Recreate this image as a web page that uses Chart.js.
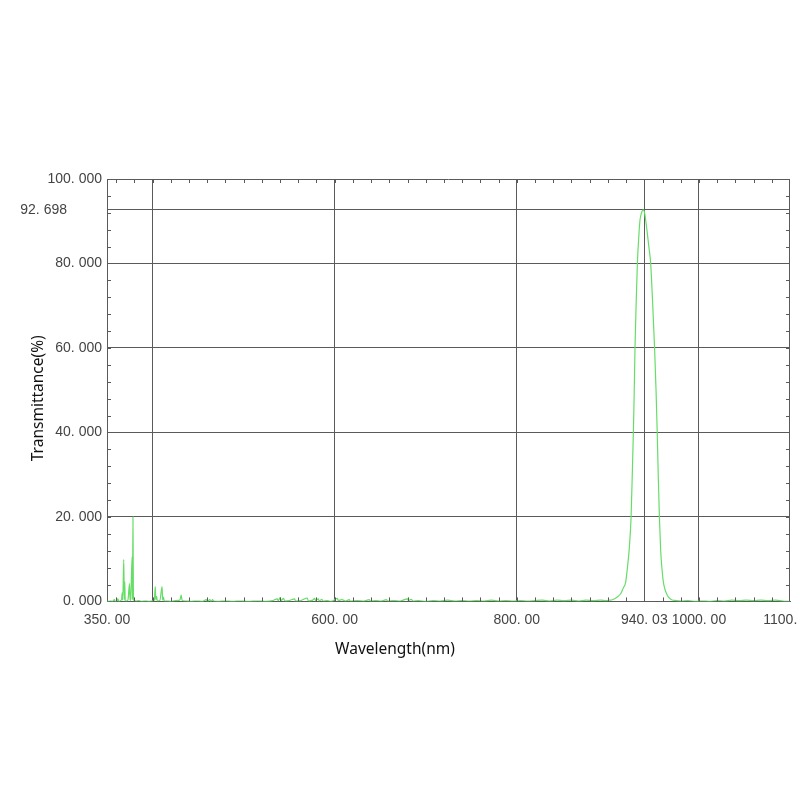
<!DOCTYPE html>
<html><head><meta charset="utf-8">
<script src="https://cdn.jsdelivr.net/npm/chart.js@4/dist/chart.umd.min.js"></script>
<style>html,body{margin:0;padding:0;background:#fff}</style>
</head><body>
<canvas id="c" width="800" height="800"></canvas>
<script>
// Wavelength (nm) sample positions and transmittance (%)
const wavelengths = [
350,354,356,358,359,361,362,363,365,366,366.7,367.3,368.4,369,369.5,370,371,373,374.7,375.3,
376,377.6,378,378.5,379,380,382,385,388,392,396,400,402,403,403.6,404.5,405.2,408,410.5,411.1,
412,412.8,416,420,425,430,431.5,432.5,436,442,448,455,459,460,463,464,466,467,472,480,
488,496,505,515,525,532,537,538,540,541,544,545,550,556,557,563,570,571,576,578,
579,582,583,586,587,592,596,603,604,608,612,616,617,625,632,638,639,645,651,657,
658,665,672,680,681,684,686,692,700,708,716,724,732,740,748,756,764,772,780,788,
796,804,812,820,828,836,844,852,860,868,876,884,892,898,902,905,910,914,917,919.5,
921.5,923.5,925.5,926.8,928,928.8,929.8,931,932.4,934.2,935.3,937,938.6,940,941.5,943.3,945,947,949.3,951.3,
952.9,954.2,955.3,956.6,958,959.5,961,962.5,964.5,966.5,970,975,980,988,996,1004,1012,1020,1028,1036,
1044,1052,1060,1068,1076,1084,1092,1100
];
const transmittance = [
0,0.1,0,0.4,0,0.1,0.6,0,0.2,0.5,2.0,0.3,9.9,0.5,4.6,0.2,0.1,0.3,4.2,0.2,
0.5,10.6,0.4,20.0,0.5,0.2,0.1,0.2,0,0.1,0,0.1,0.3,3.5,0.4,1.2,0.1,0.2,3.5,0.3,
1.0,0.1,0.1,0,0.2,0.3,1.5,0.2,0.1,0,0.1,0,0.4,0,0.4,0,0.4,0.1,0,0.1,
0,0.1,0,0.1,0,0.2,0.6,0.1,0.9,0.2,0.7,0.1,0.2,0.6,0.1,0.2,0.8,0.1,0.3,0.7,
0.2,0.6,0.1,0.5,0.1,0.2,0,0.7,0.2,0.4,0.1,0.4,0.1,0.2,0.1,0.4,0.1,0.2,0.1,0.4,
0.1,0.2,0.1,0.6,0.2,0.5,0.1,0.2,0,0.2,0.1,0.3,0.1,0.2,0.1,0.2,0.1,0.3,0.1,0.2,
0.1,0.2,0.1,0.2,0.3,0.1,0.3,0.2,0.3,0.1,0.3,0.2,0.3,0.2,0.3,0.4,1.0,1.8,3.2,4.5,
8.0,12.5,20.0,30.0,40.0,48.0,60.0,70.0,80.0,87.2,90.3,92.0,92.7,92.3,90.3,87.2,84.0,80.0,70.0,60.0,
50.0,40.0,30.0,20.0,12.0,7.5,4.5,3.0,1.8,1.0,0.4,0.2,0.1,0.2,0,0.1,0,0.2,0.1,0.3,
0.2,0.3,0.2,0.3,0.2,0.3,0.1,0
];
const xTickValues = [350, 400, 600, 800, 940.03, 1000, 1100];
const xTickLabels = ["350. 00", "", "600. 00", "800. 00", "940. 03", "1000. 00", "1100. 00"];
const xGridValues = [400, 600, 800, 940.03, 1000];
const yTickValues = [0, 20, 40, 60, 80, 92.698, 100];
const yTickLabels = ["0. 000", "20. 000", "40. 000", "60. 000", "80. 000", "92. 698         ", "100. 000"];
const yGridValues = [20, 40, 60, 80, 92.698];
const xMinorTicks = [];
for (let v = 360; v < 1100; v += 20) xMinorTicks.push(v);
const yMinorTicks = [];
for (let v = 4; v < 100; v += 4) yMinorTicks.push(v);

const FRAME = '#5a5a5a';
const tickFont = {family: 'Liberation Sans', size: 14};

const frameTicks = {
  id: 'frameTicks',
  afterDatasetsDraw(chart) {
    const {ctx, chartArea: a, scales: {x, y}} = chart;
    ctx.save();
    ctx.strokeStyle = FRAME;
    ctx.lineWidth = 1;
    ctx.beginPath();
    ctx.moveTo(a.left, Math.round(a.top) + 0.5);
    ctx.lineTo(a.right, Math.round(a.top) + 0.5);
    ctx.moveTo(Math.round(a.right) - 0.5, a.top);
    ctx.lineTo(Math.round(a.right) - 0.5, a.bottom);
    xMinorTicks.forEach(v => {
      const px = Math.round(x.getPixelForValue(v)) + 0.5;
      ctx.moveTo(px, a.top); ctx.lineTo(px, a.top + 4);
      ctx.moveTo(px, a.bottom); ctx.lineTo(px, a.bottom - 4);
    });
    yMinorTicks.forEach(v => {
      const py = Math.round(y.getPixelForValue(v)) + 0.5;
      ctx.moveTo(a.left, py); ctx.lineTo(a.left + 4, py);
      ctx.moveTo(a.right, py); ctx.lineTo(a.right - 4, py);
    });
    ctx.stroke();
    ctx.restore();
  }
};

new Chart(document.getElementById('c'), {
  type: 'line',
  data: {
    datasets: [{
      data: wavelengths.map((w, i) => ({x: w, y: transmittance[i]})),
      borderColor: '#66dd66',
      borderWidth: 1.2,
      pointRadius: 0,
      cubicInterpolationMode: 'monotone',
      fill: false
    }]
  },
  options: {
    responsive: false,
    animation: false,
    layout: {padding: {top: 179, right: 10, bottom: 141, left: 0}},
    plugins: {
      legend: {display: false},
      tooltip: {enabled: false},
      title: {
        display: true, position: 'bottom', text: 'Wavelength(nm)',
        color: '#111', font: {family: 'Noto Sans', size: 15.5, weight: 'normal'},
        padding: {top: 9, bottom: 0}
      }
    },
    scales: {
      x: {
        type: 'linear', min: 350, max: 1100,
        afterBuildTicks: s => { s.ticks = xTickValues.map(v => ({value: v})); },
        afterFit: s => { s.height = 30; s.paddingLeft = 0; s.paddingRight = 0; },
        ticks: {
          autoSkip: false, maxRotation: 0, padding: 10, color: '#444', font: tickFont,
          callback: (v, i) => xTickLabels[i]
        },
        grid: {
          drawTicks: false, lineWidth: 1,
          color: c => (c.tick && xGridValues.includes(c.tick.value)) ? FRAME : 'rgba(0,0,0,0)'
        },
        border: {display: true, color: FRAME}
      },
      y: {
        type: 'linear', min: 0, max: 100,
        afterBuildTicks: s => { s.ticks = yTickValues.map(v => ({value: v})); },
        afterFit: s => { s.width = 107; },
        ticks: {
          autoSkip: false, padding: 5, color: '#444', font: tickFont,
          callback: (v, i) => yTickLabels[i]
        },
        grid: {
          drawTicks: false, lineWidth: 1,
          color: c => (c.tick && yGridValues.includes(c.tick.value)) ? FRAME : 'rgba(0,0,0,0)'
        },
        border: {display: true, color: FRAME},
        title: {
          display: true, text: 'Transmittance(%)    ', color: '#111',
          font: {family: 'Noto Sans', size: 15.5, weight: 'normal'},
          padding: {top: 29, bottom: 0}
        }
      }
    }
  },
  plugins: [frameTicks]
});
</script>
</body></html>
